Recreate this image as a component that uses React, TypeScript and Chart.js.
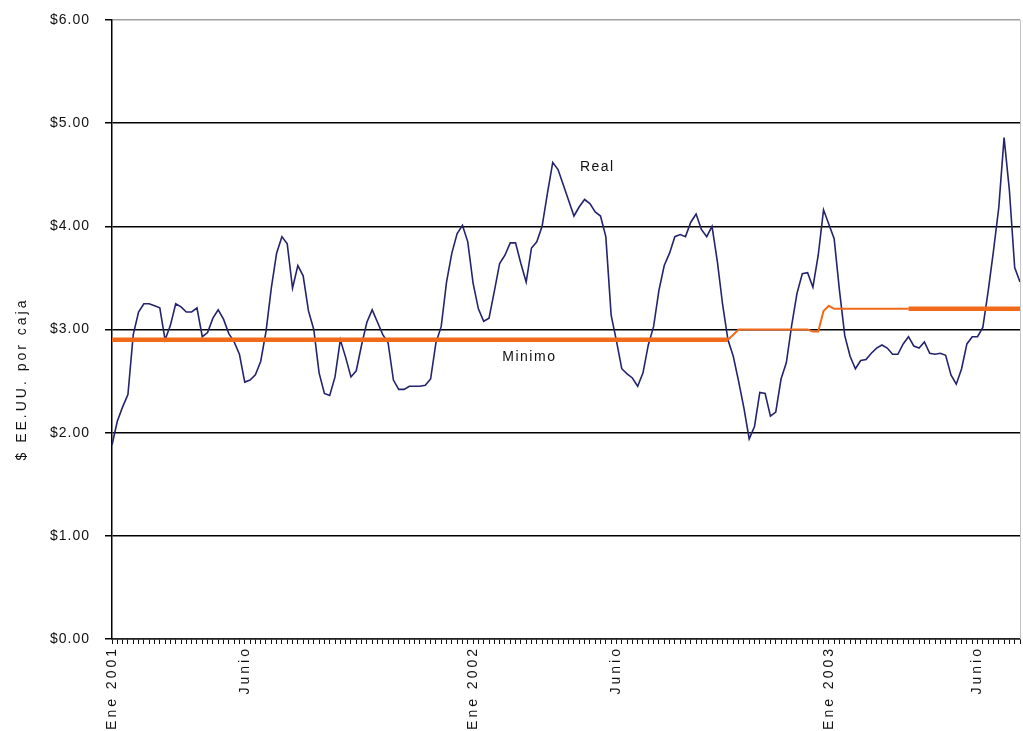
import React, { useEffect, useRef } from 'react';
import { Chart, registerables } from 'chart.js';

Chart.register(...registerables);

// Weekly-ish observations, Jan 2001 .. mid 2003 ($ per box)
const REAL = [
  1.88, 2.11, 2.25, 2.37, 2.95, 3.17, 3.25, 3.25, 3.23, 3.21,
  2.90, 3.04, 3.25, 3.22, 3.17, 3.17, 3.21, 2.93, 2.97, 3.11,
  3.19, 3.10, 2.96, 2.88, 2.76, 2.49, 2.51, 2.56, 2.69, 2.98,
  3.40, 3.74, 3.90, 3.83, 3.40, 3.62, 3.52, 3.18, 3.00, 2.58,
  2.38, 2.36, 2.54, 2.90, 2.73, 2.54, 2.60, 2.85, 3.07, 3.19,
  3.07, 2.95, 2.87, 2.51, 2.42, 2.42, 2.45, 2.45, 2.45, 2.46,
  2.52, 2.87, 3.03, 3.46, 3.74, 3.93, 4.01, 3.85, 3.45, 3.20,
  3.08, 3.11, 3.37, 3.64, 3.72, 3.84, 3.84, 3.64, 3.46, 3.79,
  3.85, 4.00, 4.32, 4.62, 4.55, 4.40, 4.25, 4.10, 4.19, 4.26,
  4.22, 4.14, 4.10, 3.90, 3.14, 2.89, 2.62, 2.57, 2.53, 2.45,
  2.58, 2.85, 3.03, 3.38, 3.62, 3.74, 3.90, 3.92, 3.90, 4.04,
  4.12, 3.97, 3.90, 4.00, 3.66, 3.24, 2.90, 2.74, 2.50, 2.24,
  1.94, 2.06, 2.39, 2.38, 2.16, 2.20, 2.52, 2.68, 3.04, 3.35,
  3.54, 3.55, 3.41, 3.72, 4.16, 4.02, 3.88, 3.38, 2.94, 2.74,
  2.62, 2.70, 2.71, 2.77, 2.82, 2.85, 2.82, 2.76, 2.76, 2.86,
  2.93, 2.84, 2.82, 2.88, 2.77, 2.76, 2.77, 2.75, 2.56, 2.47,
  2.62, 2.86, 2.93, 2.93, 3.02, 3.37, 3.76, 4.18, 4.86, 4.35,
  3.60, 3.46,
];

const MINIMO = [
  2.90, 2.90, 2.90, 2.90, 2.90, 2.90, 2.90, 2.90, 2.90, 2.90,
  2.90, 2.90, 2.90, 2.90, 2.90, 2.90, 2.90, 2.90, 2.90, 2.90,
  2.90, 2.90, 2.90, 2.90, 2.90, 2.90, 2.90, 2.90, 2.90, 2.90,
  2.90, 2.90, 2.90, 2.90, 2.90, 2.90, 2.90, 2.90, 2.90, 2.90,
  2.90, 2.90, 2.90, 2.90, 2.90, 2.90, 2.90, 2.90, 2.90, 2.90,
  2.90, 2.90, 2.90, 2.90, 2.90, 2.90, 2.90, 2.90, 2.90, 2.90,
  2.90, 2.90, 2.90, 2.90, 2.90, 2.90, 2.90, 2.90, 2.90, 2.90,
  2.90, 2.90, 2.90, 2.90, 2.90, 2.90, 2.90, 2.90, 2.90, 2.90,
  2.90, 2.90, 2.90, 2.90, 2.90, 2.90, 2.90, 2.90, 2.90, 2.90,
  2.90, 2.90, 2.90, 2.90, 2.90, 2.90, 2.90, 2.90, 2.90, 2.90,
  2.90, 2.90, 2.90, 2.90, 2.90, 2.90, 2.90, 2.90, 2.90, 2.90,
  2.90, 2.90, 2.90, 2.90, 2.90, 2.90, 2.90, 2.95, 3.00, 3.00,
  3.00, 3.00, 3.00, 3.00, 3.00, 3.00, 3.00, 3.00, 3.00, 3.00,
  3.00, 3.00, 2.98, 2.98, 3.18, 3.23, 3.20, 3.20, 3.20, 3.20,
  3.20, 3.20, 3.20, 3.20, 3.20, 3.20, 3.20, 3.20, 3.20, 3.20,
  3.20, 3.20, 3.20, 3.20, 3.20, 3.20, 3.20, 3.20, 3.20, 3.20,
  3.20, 3.20, 3.20, 3.20, 3.20, 3.20, 3.20, 3.20, 3.20, 3.20,
  3.20, 3.20,
];

const CATEGORIES = REAL.map((_, i) => i);
const X_TICK_INDEX = [0, 25, 68, 95, 135, 163];
const X_TICK_TEXT = ['Ene 2001', 'Junio', 'Ene 2002', 'Junio', 'Ene 2003', 'Junio'];
const Y_TICKS = [0, 1, 2, 3, 4, 5, 6];
const Y_TITLE = '$ EE.UU. por caja';
const NOTE_TEXT = ['Real', 'Minimo'];
const NOTE_INDEX = [91.4, 78.6];
const NOTE_VALUE = [4.57, 2.73];
const Y_TITLE_VALUE = 2.52;
const THIN_FROM = 116;
const THIN_TO = 150;

const FONT = "'Liberation Sans', Arial, sans-serif";

const textPlugin = {
  id: 'textPlugin',
  beforeDraw(chart: any) {
    (chart.ctx as any).letterSpacing = '1px';
  },
  afterDatasetsDraw(chart: any) {
    (chart.ctx as any).letterSpacing = '3px';
  },
  afterDraw(chart: any) {
    const ctx = chart.ctx;
    const { chartArea } = chart;
    const xs = chart.scales.x;
    const ys = chart.scales.y;
    ctx.save();
    ctx.strokeStyle = '#c4c4c4';
    ctx.lineWidth = 1;
    ctx.beginPath();
    ctx.moveTo(Math.round(chartArea.right) + 0.5, chartArea.top);
    ctx.lineTo(Math.round(chartArea.right) + 0.5, chartArea.bottom);
    ctx.stroke();

    ctx.fillStyle = '#111';
    ctx.font = `14px ${FONT}`;
    (ctx as any).letterSpacing = '3px';
    ctx.translate(22, ys.getPixelForValue(Y_TITLE_VALUE));
    ctx.rotate(-Math.PI / 2);
    ctx.textAlign = 'center';
    ctx.textBaseline = 'middle';
    ctx.fillText(Y_TITLE, 0, 0);
    ctx.restore();

    ctx.save();
    ctx.fillStyle = '#111';
    ctx.font = `14px ${FONT}`;
    (ctx as any).letterSpacing = '1.5px';
    ctx.textAlign = 'center';
    ctx.textBaseline = 'middle';
    NOTE_TEXT.forEach((t, k) => {
      ctx.fillText(t, xs.getPixelForValue(NOTE_INDEX[k]), ys.getPixelForValue(NOTE_VALUE[k]));
    });
    ctx.restore();
    (ctx as any).letterSpacing = '0px';
  },
};

export default function App() {
  const ref = useRef<HTMLCanvasElement | null>(null);

  useEffect(() => {
    if (!ref.current) return;
    const chart = new Chart(ref.current, {
      type: 'line',
      data: {
        labels: CATEGORIES,
        datasets: [
          {
            label: 'Minimo',
            data: MINIMO,
            borderColor: '#f06a1a',
            borderWidth: 4.5,
            pointRadius: 0,
            tension: 0,
            segment: {
              borderWidth: (c: any) =>
                c.p0DataIndex >= THIN_FROM && c.p0DataIndex < THIN_TO ? 2 : 4.5,
            },
          },
          {
            label: 'Real',
            data: REAL,
            borderColor: '#23236e',
            borderWidth: 1.6,
            pointRadius: 0,
            tension: 0,
          },
        ],
      },
      options: {
        animation: false,
        responsive: true,
        maintainAspectRatio: false,
        layout: { padding: { top: 20, right: 3, left: 0, bottom: 0 } },
        plugins: {
          legend: { display: false },
          tooltip: { enabled: false },
          title: { display: false },
        },
        scales: {
          x: {
            type: 'category',
            offset: false,
            grid: {
              display: true,
              drawOnChartArea: false,
              drawTicks: true,
              tickLength: 5,
              color: '#111',
              lineWidth: 1,
            },
            border: { display: true, color: '#222', width: 1.5 },
            ticks: {
              autoSkip: false,
              minRotation: 90,
              maxRotation: 90,
              padding: 2,
              color: '#111',
              z: 1,
              font: { family: FONT, size: 14 },
              callback: (_v: any, i: number) => {
                const k = X_TICK_INDEX.indexOf(i);
                return k >= 0 ? X_TICK_TEXT[k] : '';
              },
            },
            afterFit: (s: any) => {
              s.height = 92;
              s.paddingLeft = 0;
              s.paddingRight = 0;
            },
          },
          y: {
            min: 0,
            max: 6,
            afterBuildTicks: (s: any) => {
              s.ticks = Y_TICKS.map((v) => ({ value: v }));
            },
            grid: {
              color: (c: any) => (c.tick && c.tick.value === 6 ? '#a0a0a0' : '#000'),
              tickColor: '#000',
              lineWidth: 1.5,
              tickLength: 7,
            },
            border: { display: true, color: '#000', width: 1.5 },
            ticks: {
              padding: 15,
              color: '#111',
              font: { family: FONT, size: 14 },
              callback: (v: any) => '$' + Number(v).toFixed(2),
            },
            afterFit: (s: any) => {
              s.width = 112;
              s.paddingTop = 0;
              s.paddingBottom = 0;
            },
          },
        },
      },
      plugins: [textPlugin],
    });
    return () => chart.destroy();
  }, []);

  return (
    <div style={{ position: 'fixed', left: 0, top: 0, width: 1023, height: 731, background: '#fff' }}>
      <canvas ref={ref} />
    </div>
  );
}
